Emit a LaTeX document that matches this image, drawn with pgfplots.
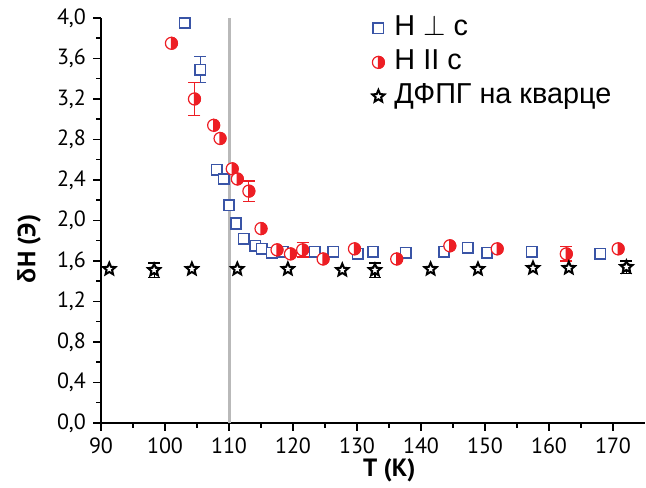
\documentclass[border=0pt]{standalone}
\usepackage{fontspec}
\setmainfont{PT Sans}
\newfontfamily\lib{Liberation Sans}
\usepackage{pgfplots}
\pgfplotsset{compat=1.18}
\usetikzlibrary{plotmarks}
\definecolor{bluem}{RGB}{57,84,166}
\definecolor{redm}{RGB}{237,30,36}
\definecolor{vline}{RGB}{185,185,185}
\pgfdeclareplotmark{ostar}{%
  \pgfpathmoveto{\pgfpointpolar{90}{\pgfplotmarksize}}%
  \pgfpathlineto{\pgfpointpolar{126}{0.45\pgfplotmarksize}}%
  \pgfpathlineto{\pgfpointpolar{162}{\pgfplotmarksize}}%
  \pgfpathlineto{\pgfpointpolar{198}{0.45\pgfplotmarksize}}%
  \pgfpathlineto{\pgfpointpolar{234}{\pgfplotmarksize}}%
  \pgfpathlineto{\pgfpointpolar{270}{0.45\pgfplotmarksize}}%
  \pgfpathlineto{\pgfpointpolar{306}{\pgfplotmarksize}}%
  \pgfpathlineto{\pgfpointpolar{342}{0.45\pgfplotmarksize}}%
  \pgfpathlineto{\pgfpointpolar{18}{\pgfplotmarksize}}%
  \pgfpathlineto{\pgfpointpolar{54}{0.45\pgfplotmarksize}}%
  \pgfpathclose
  \pgfusepathqfillstroke}
\pgfdeclareplotmark{rhalf}{%
  \pgfpathcircle{\pgfpointorigin}{\pgfplotmarksize}%
  \pgfsetfillcolor{white}\pgfusepathqfillstroke
  \pgfpathmoveto{\pgfpoint{0pt}{\pgfplotmarksize}}%
  \pgfpatharc{90}{-90}{\pgfplotmarksize}%
  \pgfpathclose
  \pgfsetfillcolor{redm}\pgfusepathqfillstroke}

\pgfplotstableread{
T y
103.1 3.95
105.5 3.49
108.1 2.50
109.2 2.41
110.0 2.15
111.1 1.97
112.3 1.82
114.1 1.75
115.1 1.72
116.7 1.68
118.4 1.69
123.4 1.69
126.3 1.69
130.1 1.67
132.5 1.69
137.6 1.68
143.6 1.69
147.3 1.73
150.3 1.68
157.3 1.69
168.0 1.67
}\bluedata

\pgfplotstableread{
T y
98.4 4.01
101.0 3.75
104.6 3.20
107.6 2.94
108.6 2.81
110.5 2.51
111.3 2.41
113.1 2.29
115.0 1.92
117.5 1.71
119.6 1.67
121.5 1.71
124.7 1.62
129.6 1.72
136.2 1.62
144.5 1.75
151.9 1.72
162.7 1.67
170.8 1.72
}\reddata

\pgfplotstableread{
T y
91.3 1.52
98.3 1.51
104.2 1.52
111.3 1.52
119.2 1.52
127.7 1.51
132.8 1.51
141.5 1.52
148.9 1.52
157.5 1.53
163.1 1.53
172.1 1.54
}\stardata

\pgfplotstableread{
T y e
105.5 3.49 0.13
111.1 1.97 0.06
137.6 1.68 0.05
}\blueerr

\pgfplotstableread{
T y e
104.6 3.20 0.16
113.1 2.29 0.10
121.5 1.71 0.07
162.7 1.67 0.07
}\rederr

\pgfplotstableread{
T y e
98.3 1.51 0.07
132.8 1.51 0.07
172.1 1.54 0.06
}\starerr

\begin{document}
\begin{tikzpicture}
\begin{axis}[
  scale only axis, width=272pt, height=202.5pt,
  xmin=90, xmax=175, ymin=0, ymax=4,
  axis lines*=left,
  axis line style={line width=0.75pt, black},
  xtick={90,100,...,170}, minor x tick num=1,
  ytick={0,0.4,0.8,1.2,1.6,2.0,2.4,2.8,3.2,3.6,4.0}, minor y tick num=1,
  tick align=outside, major tick length=4pt, minor tick length=2.5pt,
  every tick/.style={line width=0.75pt, black},
  ticklabel style={font=\fontsize{11}{12}\selectfont},
  /pgf/number format/assume math mode=true,
  yticklabel style={/pgf/number format/.cd, fixed, fixed zerofill, precision=1, use comma},
  xticklabel style={/pgf/number format/.cd, fixed, precision=0},
  xlabel={\bfseries T (K)},
  ylabel={\bfseries {\lib δ}H (Э)},
  every axis x label/.style={at={(rel axis cs:0.53,0)}, anchor=center, yshift=-23.5pt, font=\fontsize{12.5}{13}\selectfont},
  every axis y label/.style={at={(rel axis cs:0,0.43)}, anchor=center, rotate=90, yshift=36pt, font=\fontsize{12.5}{13}\selectfont},
  legend style={at={(rel axis cs:0.498,1.0)}, anchor=north west, yshift=3pt, draw=none, fill=none,
    font=\lib\fontsize{14.4}{16}\selectfont, row sep=1pt, inner sep=0pt,
    nodes={inner sep=1pt, text height=10.5pt, text depth=3.5pt},
    /tikz/every odd column/.style={column sep=4pt}},
  legend cell align=left,
  clip=true,
]
\coordinate (O) at (rel axis cs:0,0);
\coordinate (T) at (rel axis cs:1,1);
\addplot[forget plot, vline, line width=1.5pt] coordinates {(110,0) (110,4)};
% error bars
\addplot[forget plot, only marks, mark=none, bluem, line width=0.6pt,
  error bars/.cd, y dir=both, y explicit,
  error bar style={bluem, line width=0.6pt},
  error mark options={rotate=90, mark size=3pt, bluem, line width=0.6pt}]
  table[x=T, y=y, y error=e] {\blueerr};
\addplot[forget plot, only marks, mark=none, redm, line width=0.6pt,
  error bars/.cd, y dir=both, y explicit,
  error bar style={redm, line width=0.6pt},
  error mark options={rotate=90, mark size=3pt, redm, line width=0.6pt}]
  table[x=T, y=y, y error=e] {\rederr};
\addplot[forget plot, only marks, mark=none, black, line width=0.6pt,
  error bars/.cd, y dir=both, y explicit,
  error bar style={black, line width=0.6pt},
  error mark options={rotate=90, mark size=3pt, black, line width=0.6pt}]
  table[x=T, y=y, y error=e] {\starerr};
% data
\addplot[only marks, mark=square*, mark size=2.6pt,
  mark options={draw=bluem, fill=white, line width=0.8pt}]
  table[x=T, y=y] {\bluedata};
\addlegendentry{H $\perp$ c}
\addplot[only marks, mark=rhalf, mark size=3pt,
  mark options={draw=redm, line width=0.6pt}]
  table[x=T, y=y] {\reddata};
\addlegendentry{H II c}
\addplot[only marks, mark=ostar, mark size=3.2pt,
  mark options={draw=black, fill=white, line width=1pt, line join=miter}]
  table[x=T, y=y] {\stardata};
\addlegendentry{ДФПГ на кварце}
\end{axis}
\pgfresetboundingbox
\path[use as bounding box] ([shift={(-50.5pt,-32.5pt)}]O) rectangle ([shift={(0.5pt,9pt)}]T);
\end{tikzpicture}
\end{document}
